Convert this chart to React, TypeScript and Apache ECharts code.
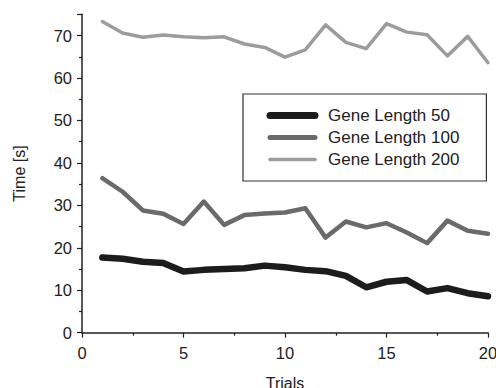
import React, { useEffect, useRef } from 'react';
import * as echarts from 'echarts';

const trials = [1, 2, 3, 4, 5, 6, 7, 8, 9, 10, 11, 12, 13, 14, 15, 16, 17, 18, 19, 20];
const gene50 = [17.7, 17.4, 16.7, 16.4, 14.4, 14.8, 15.0, 15.2, 15.8, 15.4, 14.8, 14.5, 13.4, 10.7, 12.0, 12.4, 9.7, 10.5, 9.3, 8.6];
const gene100 = [36.4, 33.2, 28.8, 28.0, 25.6, 30.9, 25.4, 27.7, 28.1, 28.3, 29.3, 22.4, 26.2, 24.8, 25.8, 23.6, 21.1, 26.4, 24.0, 23.3];
const gene200 = [73.3, 70.6, 69.6, 70.1, 69.7, 69.5, 69.7, 68.0, 67.2, 64.9, 66.6, 72.5, 68.4, 66.9, 72.8, 70.8, 70.2, 65.2, 69.8, 63.6];
const seriesNames = ['Gene Length 50', 'Gene Length 100', 'Gene Length 200'];

const FONT = 'Liberation Sans, Arial, sans-serif';
const INK = '#222222';

export default function App() {
  const ref = useRef<HTMLDivElement>(null);
  useEffect(() => {
    if (!ref.current) return;
    const chart = echarts.init(ref.current, null, { renderer: 'svg' });
    const allData = [gene50, gene100, gene200];
    const colors = ['#1c1c1c', '#6a6a6a', '#9c9c9c'];
    const widths = [6.5, 4.5, 3.5];
    const legendWidths = [7, 5, 3.5];
    chart.setOption({
      animation: false,
      textStyle: { fontFamily: FONT },
      grid: { left: 82, right: 8, top: 14.3, bottom: 55.3, outerBoundsMode: 'none', containLabel: false },
      legend: {
        orient: 'vertical',
        left: 243,
        top: 94,
        itemWidth: 45,
        itemHeight: 14,
        itemGap: 5,
        padding: [13, 27, 13, 23.5],
        borderColor: '#333',
        borderWidth: 1.2,
        textStyle: { fontFamily: FONT, fontSize: 17, color: INK, padding: [0, 0, 0, 8], lineHeight: 14 },
        data: seriesNames.map((n, i) => ({
          name: n,
          lineStyle: { width: legendWidths[i], cap: 'round' },
          itemStyle: { color: 'rgba(0,0,0,0)', borderWidth: 0 },
        })),
      },
      xAxis: {
        type: 'value',
        min: 0,
        max: 20,
        interval: 5,
        name: 'Trials',
        nameLocation: 'middle',
        nameGap: 43,
        nameTextStyle: { fontFamily: FONT, fontSize: 16, color: INK },
        axisLine: { show: true, lineStyle: { color: INK, width: 1.5 } },
        axisTick: { show: true, length: 5, lineStyle: { color: INK, width: 1.2 } },
        minorTick: { show: true, splitNumber: 2, length: 3, lineStyle: { color: INK, width: 1.2 } },
        axisLabel: { fontFamily: FONT, fontSize: 16.5, color: INK, margin: 12 },
        splitLine: { show: false },
      },
      yAxis: {
        type: 'value',
        min: 0,
        max: 75,
        interval: 10,
        name: 'Time [s]',
        nameLocation: 'middle',
        nameGap: 55,
        nameTextStyle: { fontFamily: FONT, fontSize: 16, color: INK },
        axisLine: { show: true, lineStyle: { color: INK, width: 1.5 } },
        axisTick: { show: true, length: 5, lineStyle: { color: INK, width: 1.2 } },
        minorTick: { show: true, splitNumber: 2, length: 3, lineStyle: { color: INK, width: 1.2 } },
        axisLabel: { fontFamily: FONT, fontSize: 16.5, color: INK, margin: 10, showMaxLabel: false },
        splitLine: { show: false },
      },
      series: allData.map((d, i) => ({
        name: seriesNames[i],
        type: 'line',
        symbol: 'none',
        data: trials.map((t, j) => [t, d[j]]),
        lineStyle: { color: colors[i], width: widths[i], cap: 'round', join: 'round' },
        itemStyle: { color: colors[i] },
        z: 3 - i,
      })),
    });
    return () => chart.dispose();
  }, []);
  return <div ref={ref} style={{ position: 'fixed', left: 0, top: 0, width: 496, height: 388, background: '#fff' }} />;
}
